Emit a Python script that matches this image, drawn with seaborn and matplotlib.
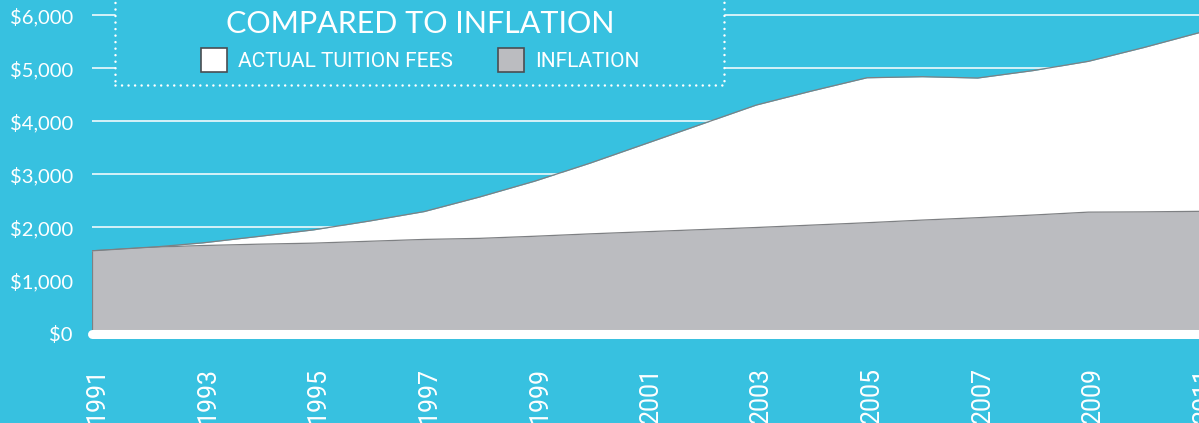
import matplotlib
matplotlib.use("Agg")
import matplotlib.pyplot as plt
from matplotlib import font_manager
from matplotlib.patches import Rectangle
from matplotlib.transforms import ScaledTranslation
import pandas as pd
import seaborn as sns

# Average annual tuition fees against the same 1991 fee grown with inflation
years = list(range(1991, 2012))
tuition = [1560, 1620, 1710, 1830, 1955, 2120, 2300, 2575, 2875, 3215, 3580,
           3945, 4310, 4575, 4825, 4845, 4820, 4960, 5135, 5395, 5675]
inflation = [1560, 1625, 1660, 1685, 1705, 1740, 1775, 1795, 1835, 1880, 1920,
             1960, 2000, 2045, 2090, 2140, 2185, 2235, 2290, 2295, 2305]

tick_years = list(range(1991, 2012, 2))
y_ticks = [0, 1000, 2000, 3000, 4000, 5000, 6000]
y_tick_labels = ["$0", "$1,000", "$2,000", "$3,000", "$4,000", "$5,000", "$6,000"]
title = "COMPARED TO INFLATION"
legend_labels = ["ACTUAL TUITION FEES", "INFLATION"]

BLUE = "#37C1E0"
GRAY = "#BBBCC0"
EDGE = "#7E8083"
W, H = 1199, 423

sns.set_theme(style="white")
available = {f.name for f in font_manager.fontManager.ttflist}
narrow = "Liberation Sans Narrow" if "Liberation Sans Narrow" in available else "Roboto"
plt.rcParams["font.family"] = ["Lato", "DejaVu Sans"]

df = pd.DataFrame({"year": years, "tuition": tuition, "inflation": inflation})

fig = plt.figure(figsize=(W / 100, H / 100), dpi=100, facecolor=BLUE)
ax = fig.add_axes([92 / W, (H - 333.5) / H, 1 - 92 / W, 333.5 / H])
ax.set_facecolor(BLUE)

# tuition area (white) with a thin grey outline
ax.fill_between(df["year"], 0, df["tuition"], color="white", lw=0, zorder=2)
sns.lineplot(data=df, x="year", y="tuition", color=EDGE, lw=0.9, ax=ax, zorder=3)

# inflation area (grey) drawn on top
ax.fill_between(df["year"], 0, df["inflation"], facecolor=GRAY, lw=0, zorder=4)
sns.lineplot(data=df, x="year", y="inflation", color=EDGE, lw=0.9, ax=ax, zorder=5)
ax.vlines(years[0], 0, inflation[0], color=EDGE, lw=0.9, zorder=5)

# thick white baseline
ax.axhline(0, color="white", lw=6.5, solid_capstyle="round", clip_on=False, zorder=6)

ax.set_xlim(years[0], years[-1])
ax.set_ylim(0, 333.5 * 6000 / 318)
ax.set_xlabel("")
ax.set_ylabel("")
for s in ax.spines.values():
    s.set_visible(False)

ax.set_yticks(y_ticks)
ax.set_yticklabels(y_tick_labels)
ax.set_xticks(tick_years)
ax.set_xticklabels([str(y) for y in tick_years], rotation=90)
ax.set_axisbelow(True)
ax.yaxis.grid(True, color=(1, 1, 1, 0.45), lw=1.1)
ax.xaxis.grid(False)
ax.tick_params(axis="y", length=0, pad=13.7, labelsize=14.5, labelcolor="white")
ax.tick_params(axis="x", length=0, pad=24, labelsize=18, labelcolor="white")
shift = ScaledTranslation(5 / 100, 0, fig.dpi_scale_trans)
for lab in ax.get_xticklabels():
    lab.set_family([narrow, "DejaVu Sans"])
    lab.set_transform(lab.get_transform() + shift)

# dotted legend frame
box_left, box_right, box_bottom = 115, 724, 84.7
frame = Rectangle((box_left / W, (H - box_bottom) / H), (box_right - box_left) / W, 0.5,
                  transform=fig.transFigure, facecolor=BLUE, edgecolor="white",
                  lw=1.8, linestyle=(0, (0.01, 2.6)), zorder=10)
frame.set_capstyle("round")
fig.add_artist(frame)

fig.text(420 / W, 1 - 33 / H, title, ha="center", va="baseline", fontsize=22,
         color="white", zorder=11)

for x0, face, label, tx in [(200.7, "white", legend_labels[0], 238),
                            (498, GRAY, legend_labels[1], 535)]:
    sq = Rectangle((x0 / W, (H - 72.3) / H), 26 / W, 24.6 / H, transform=fig.transFigure,
                   facecolor=face, edgecolor="#4a4d52", lw=1.2, zorder=11)
    fig.add_artist(sq)
    fig.text(tx / W, 1 - 66.7 / H, label, ha="left", va="baseline", fontsize=15,
             color="white", family=[narrow, "DejaVu Sans"], zorder=11)

fig.savefig("out.png", dpi=100, facecolor=BLUE)
